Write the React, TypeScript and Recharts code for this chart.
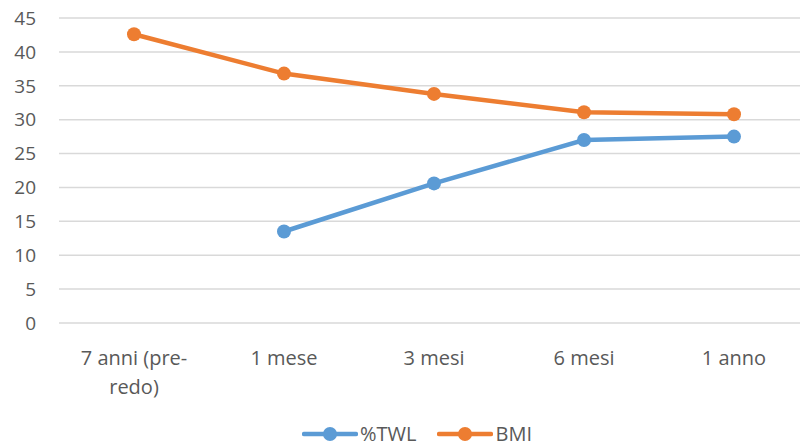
import { LineChart, Line, XAxis, YAxis, CartesianGrid, Legend } from 'recharts';

const periods = ['7 anni (pre-redo)', '1 mese', '3 mesi', '6 mesi', '1 anno'];
const twl: (number | null)[] = [null, 13.5, 20.6, 27.0, 27.5];
const bmi = [42.6, 36.8, 33.8, 31.1, 30.8];
const yTicks = [0, 5, 10, 15, 20, 25, 30, 35, 40, 45];

const BLUE = '#5B9BD5';
const ORANGE = '#ED7D31';
const TEXT = '#595959';
const FONT = '"Open Sans", "Noto Sans", sans-serif';

const data = periods.map((period, i) => ({ period, twl: twl[i], bmi: bmi[i] }));

// two-line wrap for the long first category
const wrapLabel = (label: string): string[] =>
  label === '7 anni (pre-redo)' ? ['7 anni (pre-', 'redo)'] : [label];

function PeriodTick({ x, y, payload }: any) {
  const lines = wrapLabel(payload.value);
  return (
    <text x={x} y={y + 40} textAnchor="middle" fill={TEXT} fontSize={20} fontFamily={FONT}>
      {lines.map((line, i) => (
        <tspan key={i} x={x} dy={i === 0 ? 0 : 29}>
          {line}
        </tspan>
      ))}
    </text>
  );
}

function LegendItems() {
  const items = [
    { name: '%TWL', color: BLUE },
    { name: 'BMI', color: ORANGE },
  ];
  return (
    <div style={{ display: 'flex', paddingLeft: 302, paddingTop: 6, fontFamily: FONT, fontSize: 20, lineHeight: '22px', color: TEXT }}>
      {items.map((it) => (
        <div key={it.name} style={{ display: 'flex', alignItems: 'center', marginRight: 21 }}>
          <svg width={56} height={16} style={{ marginRight: 2 }}>
            <line x1={2} y1={8} x2={54} y2={8} stroke={it.color} strokeWidth={4.5} strokeLinecap="round" />
            <circle cx={28} cy={8} r={7} fill={it.color} />
          </svg>
          <span>{it.name}</span>
        </div>
      ))}
    </div>
  );
}

export default function App() {
  return (
    <div style={{ position: 'absolute', left: 0, top: 0, width: 800, height: 447, overflow: 'hidden', background: '#fff' }}>
      <LineChart width={812} height={447} data={data} margin={{ top: 18, right: 3, left: 0, bottom: 0 }}>
        <CartesianGrid vertical={false} stroke="#D9D9D9" strokeWidth={1.5} />
        <XAxis
          dataKey="period"
          axisLine={false}
          tickLine={false}
          tickSize={0}
          height={94}
          interval={0}
          padding={{ left: 75, right: 75 }}
          tick={<PeriodTick />}
        />
        <YAxis
          domain={[0, 45]}
          ticks={yTicks}
          width={59}
          axisLine={false}
          tickLine={false}
          tickSize={0}
          tickMargin={23}
          tick={{ fill: TEXT, fontSize: 19, fontFamily: FONT }}
        />
        <Legend verticalAlign="bottom" height={30} content={<LegendItems />} />
        <Line
          dataKey="twl"
          name="%TWL"
          stroke={BLUE}
          strokeWidth={4.5}
          dot={{ r: 7, fill: BLUE, stroke: BLUE, strokeWidth: 0 }}
          activeDot={false}
          connectNulls={false}
          isAnimationActive={false}
        />
        <Line
          dataKey="bmi"
          name="BMI"
          stroke={ORANGE}
          strokeWidth={4.5}
          dot={{ r: 7, fill: ORANGE, stroke: ORANGE, strokeWidth: 0 }}
          activeDot={false}
          isAnimationActive={false}
        />
      </LineChart>
    </div>
  );
}
